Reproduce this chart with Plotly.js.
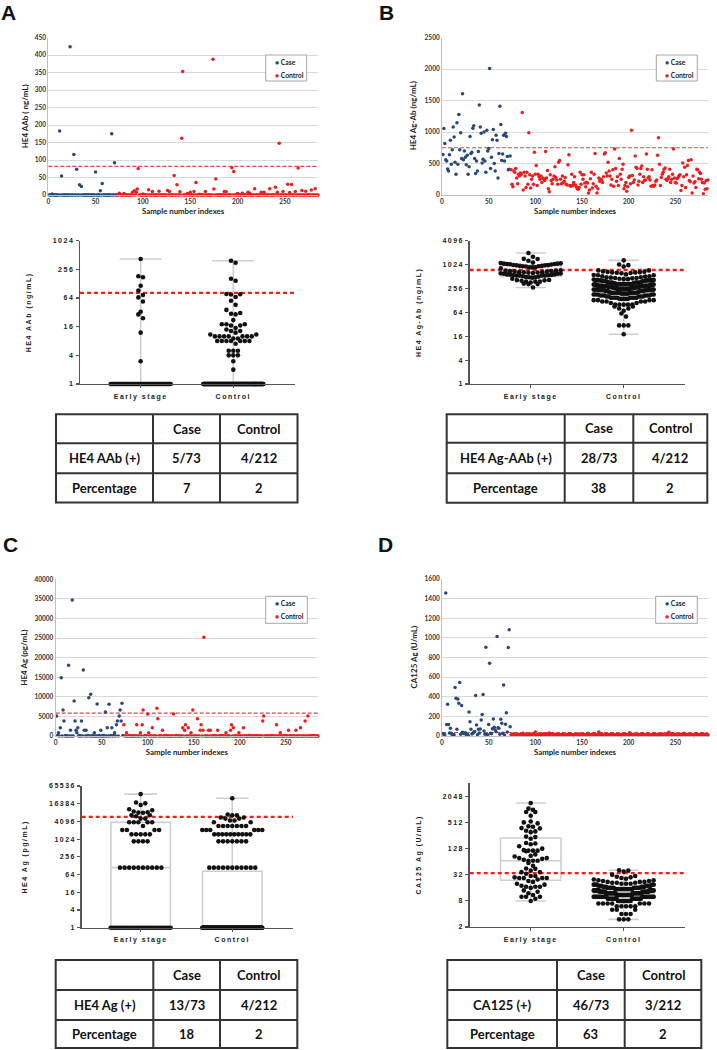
<!DOCTYPE html>
<html><head><meta charset="utf-8">
<script src="https://cdn.plot.ly/plotly-3.0.1.min.js"></script>
<style>
body{margin:0;background:#fff;}
#chart{width:717px;height:1050px;}
.x3tick text,.y3tick text,.x4tick text,.y4tick text,.x7tick text,.y7tick text,.x8tick text,.y8tick text{letter-spacing:1.5px;}
.y3title,.y4title,.y7title,.y8title{letter-spacing:1.5px;}
</style></head><body><div id="chart"></div><script>
// ---------------- DATA ----------------
const groupLabels = ['Early stage', 'Control'];
const legendNames = ['Case', 'Control'];
const sampleTicks = [0, 50, 100, 150, 200, 250];

// Panel A: HE4 AAb (ng/mL), case samples 1-73, control samples 74-285
const aCase = [0,0,0,3,0,0,0,0,0,0, 0,183,0,54,0,0,0,0,0,0, 0,0,424,0,0,0,116,0,0,74,
  0,0,29,0,24,0,0,0,0,0, 0,0,0,0,0,0,0,0,0,66, 0,0,0,0,12,0,33,0,0,0, 0,0,0,0,0,0,175,0,0,92, 0,0,0];
const aCtrl = [0,5,0,0,0,0,4,0,0,0, 0,0,0,0,0,8,0,12,0,8, 17,76,0,0,0,0,3,0,0,0, 0,0,15,0,0,0,10,0,0,0,
  0,0,0,11,0,0,0,0,0,0, 0,0,13,0,10,0,0,0,0,56, 0,0,29,0,0,9,0,162,353,0, 0,0,0,4,0,0,8,0,0,0,
  10,0,36,0,0,0,2,0,0,0, 0,0,10,0,0,0,0,0,0,0, 388,17,0,46,0,0,0,0,0,0, 0,0,10,0,9,0,0,0,0,0,
  78,0,67,0,0,0,4,0,0,0, 0,5,0,0,0,0,0,8,0,5, 0,0,0,0,18,0,0,0,0,0, 0,8,0,0,8,0,0,0,0,0,
  18,0,0,0,0,0,22,0,8,0, 148,0,0,0,10,0,0,0,0,31, 0,7,0,30,0,0,0,10,0,0, 77,0,0,0,13,0,0,0,11,0,
  0,0,0,0,14,0,0,0,18,0, 0,0];

// Panel B: HE4 Ag-Ab (ng/mL)
const bCase = [645,1057,820,560,540,415,380,640,870,490, 720,1080,920,520,330,1150,490,1280,720,990,
  580,1610,560,700,600,480,630,330,450,930, 660,680,1060,1100,580,340,540,380,690,1430,
  1080,980,510,570,1000,540,360,1030,700,740, 2010,420,600,880,1040,500,380,950,870,270,
  660,1410,1120,550,650,950,540,980,930,610, 400,410,620];
const bCtrl = [400,170,130,380,360,420,270,180,330,300, 350,330,1310,80,360,300,120,360,170,990,
  320,110,250,300,170,680,330,470,150,330, 290,250,300,200,270,260,230,690,270,390,
  100,50,320,230,180,250,300,450,280,240, 170,520,550,250,180,300,200,220,280,170,
  160,480,640,150,140,330,150,200,290,160, 130,100,90,120,360,170,320,250,320,190,
  130,200,190,30,80,260,360,110,180,330, 660,140,30,100,270,220,250,240,200,290,
  650,670,350,300,520,380,300,160,250,400, 140,730,420,220,290,150,580,330,250,410,
  490,100,150,200,60,130,280,300,180,1030, 310,200,240,620,440,420,160,220,330,420,
  460,200,290,230,240,650,410,270,290,240, 140,400,150,140,160,220,240,630,910,490,
  150,280,330,360,410,430,250,230,260,290, 410,200,250,330,730,270,200,190,260,280,
  310,320,70,150,510,290,440,120,320,470, 550,230,210,560,30,300,190,210,120,410,
  400,260,360,340,250,200,18,190,90,230, 100,240];

// Panel C: HE4 Ag (pg/mL)
const cCase = [5100,110,860,0,2090,14890,0,6640,3820,0, 110,0,0,18040,0,1490,0,34720,0,8940,
  3820,1490,860,2090,0,110,0,3820,0,16850, 1490,0,1490,0,110,9790,0,10640,0,110,
  0,860,0,0,8170,0,110,0,1490,0, 0,110,0,6130,0,2090,0,8090,0,110,
  2090,0,110,860,0,2860,3820,0,5100,6640, 3820,8340,110];
const cCtrl = [2860,0,0,860,0,0,110,0,0,0, 0,0,0,0,2860,0,0,0,860,0, 2860,6640,0,0,110,0,5600,860,0,0,
  0,2090,0,0,0,0,7060,4400,0,0, 0,0,1490,0,0,0,110,0,0,0, 0,0,0,0,5600,0,0,110,0,0,
  0,0,0,0,2090,0,1490,2860,0,0, 2090,0,0,860,0,6640,0,0,0,0, 4400,0,0,1490,2860,0,1490,25190,0,0,
  0,0,1490,0,1490,0,0,0,110,0, 0,0,1490,0,0,0,110,0,0,0, 0,860,0,0,0,0,1490,2860,0,2090,
  0,0,0,0,0,860,0,0,0,0, 2090,0,0,0,0,0,110,0,0,0, 0,0,0,0,110,0,0,0,0,0,
  0,3820,5100,0,0,0,0,0,0,0, 0,110,0,0,0,0,2860,0,0,0, 860,0,0,0,0,0,110,0,0,1490,
  0,0,0,0,0,0,0,1490,0,0, 0,0,2090,0,0,0,0,3820,0,0, 5100,0,0,0,0,0,110,0,0,0, 0,0];

// Panel D: CA125 Ag (U/mL)
const dCase = [22,17,12,1457,116,323,116,30,78,27, 9,10,14,494,385,68,378,334,545,18,
  310,37,25,27,34,11,17,8,245,146, 68,20,27,37,45,412,112,13,68,30,
  71,163,218,422,52,17,905,16,10,116, 742,27,23,75,174,88,60,44,1014,85,
  78,19,170,129,28,521,10,119,238,40, 902,1082,95];
const dCtrl = [12,9,15,22,11,8,14,18,10,13, 7,16,12,27,9,11,19,5,14,10, 13,21,8,12,17,10,41,11,9,15,
  6,12,18,14,9,23,11,8,16,13, 10,30,12,7,15,11,19,9,4,14, 12,17,10,13,8,20,11,16,6,12,
  9,14,25,11,18,10,13,3,15,12, 8,16,11,21,9,13,7,17,12,10, 14,11,28,9,12,5,16,10,13,19,
  11,8,15,12,40,10,14,22,9,13, 6,12,18,11,10,16,13,8,24,12, 15,9,11,14,7,19,10,12,3,17,
  13,10,21,8,12,15,11,32,9,14, 12,16,7,11,13,10,18,4,14,9, 10,22,12,15,8,11,17,13,6,12,
  11,14,9,26,10,12,16,5,13,15, 9,12,20,11,14,7,10,18,12,38, 13,8,15,11,23,10,12,16,4,14,
  12,10,17,9,13,29,11,6,15,12, 10,14,11,19,8,12,3,16,13,20, 11,9,15,12,24,10,14,7,18,12, 13,10];

// cut-off values (red dashed lines)
const cutA = 82, cutB = 750, cutC = 5850, cutD = 35;

// y tick values of the dot plots (log2 scale)
const ticksA = [1,4,16,64,256,1024];
const ticksB = [1,4,16,64,256,1024,4096];
const ticksC = [1,4,16,64,256,1024,4096,16384,65536];
const ticksD = [2,8,32,128,512,2048];

// tables
const tableHeader = ['', 'Case', 'Control'];
const tableA = [['HE4 AAb (+)', '5/73', '4/212'], ['Percentage', '7', '2']];
const tableB = [['HE4 Ag-AAb (+)', '28/73', '4/212'], ['Percentage', '38', '2']];
const tableC = [['HE4 Ag (+)', '13/73', '4/212'], ['Percentage', '18', '2']];
const tableD = [['CA125 (+)', '46/73', '3/212'], ['Percentage', '63', '2']];

// ---------------- STYLE / GEOMETRY ----------------
const W = 717, H = 1050;
const caseColor = '#27497a', ctrlColor = '#ee1c1c';
const G = {
  sA: {x:[48.3,318], y:[37.7,195]},
  sB: {x:[442,708], y:[37.7,195]},
  sC: {x:[55.7,318], y:[579.3,736]},
  sD: {x:[442,708], y:[579,736]},
  bA: {x:[80,295], y:[240.7,384], xr:[-0.655,1.666], yr:[1,1024]},
  bB: {x:[469.7,685], y:[240.7,384], xr:[-0.656,1.659], yr:[1,4096]},
  bC: {x:[81.7,293], y:[786,927.7], xr:[-0.644,1.663], yr:[1,65536]},
  bD: {x:[469.7,685], y:[782.7,927], xr:[-0.656,1.659], yr:[2,Math.pow(2,12.07)]}
};
function dom(g){ return {x:[g.x[0]/W, g.x[1]/W], y:[1-g.y[1]/H, 1-g.y[0]/H]}; }
function px(x){ return x/W; }
function py(y){ return 1-y/H; }

const layout = {
  width: W, height: H, autosize: false,
  margin: {l:0, r:0, t:0, b:0},
  paper_bgcolor: '#fff', plot_bgcolor: 'rgba(0,0,0,0)',
  showlegend: false, hovermode: false,
  shapes: [], annotations: []
};
const data = [];

const sFont = {family:'Lato, sans-serif', size:6.5, color:'#333', weight:'bold'};
function scatterPanel(id, g, vCase, vCtrl, yRange, dtick, ytitle, titleX, cut, legendBox){
  const d = dom(g);
  const xa = 'xaxis'+id, ya = 'yaxis'+id, xr = 'x'+id, yr = 'y'+id;
  layout[xa] = {domain:d.x, anchor:yr, range:[0,285], tickvals:sampleTicks, showline:true,
    linecolor:'#bfbfbf', linewidth:1, showgrid:false, zeroline:false, ticks:'', tickfont:sFont,
    title:{text:'Sample number indexes', font:Object.assign({}, sFont, {size:7.8, color:'#222'}), standoff:4}, fixedrange:true};
  layout[ya] = {domain:d.y, anchor:xr, range:yRange, dtick:dtick, tick0:0, tickformat:'d', showline:true,
    linecolor:'#bfbfbf', showgrid:true, gridcolor:'#d9d9d9', gridwidth:1, zeroline:false, ticks:'',
    tickfont:sFont, fixedrange:true};
  // y-axis title placed beside the tick labels
  layout.annotations.push({xref:'paper', yref:'paper', x:px(titleX), y:py((g.y[0]+g.y[1])/2), textangle:-90,
    xanchor:'center', yanchor:'middle', showarrow:false, text:ytitle,
    font:Object.assign({}, sFont, {size:8, color:'#222'})});
  const xCase = vCase.map((v,i)=>i+1);
  const xCtrl = vCtrl.map((v,i)=>vCase.length+i+1);
  data.push({type:'scatter', mode:'lines', x:[0,285], y:[cut,cut], xaxis:xr, yaxis:yr,
    line:{color:'#e0464e', width:1.1, dash:'4px,2px'}, hoverinfo:'skip', name:'Cut-off'});
  data.push({type:'scatter', mode:'markers', name:legendNames[0], x:xCase, y:vCase, xaxis:xr, yaxis:yr,
    marker:{color:caseColor, size:3.5}, cliponaxis:false});
  data.push({type:'scatter', mode:'markers', name:legendNames[1], x:xCtrl, y:vCtrl, xaxis:xr, yaxis:yr,
    marker:{color:ctrlColor, size:3.5}, cliponaxis:false});
  // legend box
  const lb = legendBox;
  layout.shapes.push({type:'rect', xref:'paper', yref:'paper', x0:px(lb.x[0]), x1:px(lb.x[1]),
    y0:py(lb.y[1]), y1:py(lb.y[0]), line:{color:'#a6a6a6', width:1}, fillcolor:'#fff'});
  [caseColor, ctrlColor].forEach((c,i)=>{
    layout.annotations.push({xref:'paper', yref:'paper', x:px(lb.tx), y:py(lb.ty[i]), xanchor:'left', yanchor:'middle',
      showarrow:false, text:'<span style="color:'+c+'">●</span> '+legendNames[i],
      font:{family:'Lato, sans-serif', size:6.8, color:'#222', weight:'bold'}});
  });
}

function quant(s, p){
  const n = s.length, pos = (n+1)*p;
  if (pos <= 1) return s[0];
  if (pos >= n) return s[n-1];
  const lo = Math.floor(pos), f = pos-lo;
  return s[lo-1] + f*(s[lo]-s[lo-1]);
}
function swarm(vals, center, g, dia, halfW){
  const ppl = (g.y[1]-g.y[0])/(Math.log2(g.yr[1])-Math.log2(g.yr[0]));
  const ppu = (g.x[1]-g.x[0])/(g.xr[1]-g.xr[0]);
  const pts = vals.map(v=>{const f=Math.max(v,1); return {v:f, p:Math.log2(f)*ppl};}).sort((a,b)=>a.p-b.p);
  const rows = []; let cur = null;
  for (const q of pts){
    if (cur && q.p-cur.p0 < dia) cur.items.push(q);
    else { cur = {p0:q.p, items:[q]}; rows.push(cur); }
  }
  const xs = [], ys = [];
  for (const r of rows){
    const n = r.items.length;
    const s = n>1 ? Math.min(dia, 2*halfW/(n-1)) : 0;
    r.items.forEach((q,i)=>{
      let slot;
      if (n%2){ slot = i===0 ? 0 : (i%2 ? (i+1)/2 : -(i/2)); }
      else { const k = Math.floor(i/2); slot = (i%2 ? -(k+0.5) : (k+0.5)); }
      xs.push(center + slot*s/ppu); ys.push(q.v);
    });
  }
  return {x:xs, y:ys};
}

const bFont = {family:'"Liberation Sans", Arial, sans-serif', size:7, color:'#222', weight:'bold'};
function dotPanel(id, g, vCase, vCtrl, ticks, ytitle, cut, ww){
  const d = dom(g);
  const xa = 'xaxis'+id, ya = 'yaxis'+id, xr = 'x'+id, yr = 'y'+id;
  layout[xa] = {domain:d.x, anchor:yr, range:g.xr, tickvals:[0,1], ticktext:groupLabels, showline:true,
    linecolor:'#555', linewidth:1.3, ticks:'outside', ticklen:3, tickwidth:1.1, tickcolor:'#555',
    showgrid:false, zeroline:false, tickfont:bFont, ticklabelstandoff:2, fixedrange:true};
  layout[ya] = {domain:d.y, anchor:xr, type:'log', range:[Math.log10(g.yr[0]), Math.log10(g.yr[1])],
    tickvals:ticks, ticktext:ticks.map(String), showline:true, linecolor:'#555', linewidth:1.3,
    ticks:'outside', ticklen:3, tickwidth:1.1, tickcolor:'#555', showgrid:false, zeroline:false,
    tickfont:bFont, title:{text:ytitle, font:Object.assign({}, bFont, {size:7}), standoff:20}, fixedrange:true};
  const groups = [vCase, vCtrl].map(v=>v.map(x=>Math.max(x,1)).sort((a,b)=>a-b));
  data.push({type:'box', xaxis:xr, yaxis:yr, x:[0,1],
    q1:groups.map(s=>quant(s,0.25)), median:groups.map(s=>quant(s,0.5)), q3:groups.map(s=>quant(s,0.75)),
    lowerfence:groups.map(s=>s[0]), upperfence:groups.map(s=>s[s.length-1]),
    width:0.65, whiskerwidth:ww, boxpoints:false, line:{color:'#cfcfcf', width:1.6},
    fillcolor:'rgba(255,255,255,0)', hoverinfo:'skip', name:'Box'});
  data.push({type:'scatter', mode:'lines', x:g.xr, y:[cut,cut], xaxis:xr, yaxis:yr,
    line:{color:'#ff1a1a', width:2.4, dash:'4px,3px'}, hoverinfo:'skip', name:'Cut-off', cliponaxis:false});
  [vCase, vCtrl].forEach((v,i)=>{
    const sw = swarm(v, i, g, 4.6, 30);
    data.push({type:'scatter', mode:'markers', x:sw.x, y:sw.y, xaxis:xr, yaxis:yr, name:groupLabels[i],
      marker:{color:'#111', size:4.6}, cliponaxis:false, hoverinfo:'skip'});
  });
}

function table(t, rows){
  const lc = '#333';
  layout.shapes.push({type:'rect', xref:'paper', yref:'paper', x0:px(t.x[0]), x1:px(t.x[3]), y0:py(t.y[3]), y1:py(t.y[0]),
    line:{color:lc, width:2}});
  [1,2].forEach(i=>{
    layout.shapes.push({type:'line', xref:'paper', yref:'paper', x0:px(t.x[i]), x1:px(t.x[i]), y0:py(t.y[3]), y1:py(t.y[0]), line:{color:lc, width:2}});
    layout.shapes.push({type:'line', xref:'paper', yref:'paper', x0:px(t.x[0]), x1:px(t.x[3]), y0:py(t.y[i]), y1:py(t.y[i]), line:{color:lc, width:2}});
  });
  const all = [tableHeader].concat(rows);
  all.forEach((r,ri)=>r.forEach((txt,ci)=>{
    if (!txt) return;
    layout.annotations.push({xref:'paper', yref:'paper', x:px((t.x[ci]+t.x[ci+1])/2), y:py((t.y[ri]+t.y[ri+1])/2),
      xanchor:'center', yanchor:'middle', showarrow:false, text:txt,
      font:{family:'Lato, sans-serif', size:13, color:'#111', weight:'bold'}});
  }));
}

scatterPanel('', G.sA, aCase, aCtrl, [0,450], 50, 'HE4 AAb ( ng/mL)', 25, cutA, {x:[265.7,306.7], y:[55,81], tx:273, ty:[62,75.3]});
scatterPanel('2', G.sB, bCase, bCtrl, [0,2500], 500, 'HE4 Ag-Ab (ng/mL)', 413, cutB, {x:[656.3,697.3], y:[55,81], tx:663, ty:[62,75.3]});
dotPanel('3', G.bA, aCase, aCtrl, ticksA, 'HE4 AAb (ng/mL)', cutA, 0.7);
dotPanel('4', G.bB, bCase, bCtrl, ticksB, 'HE4 Ag-Ab (ng/mL)', cutB, 0.5);
scatterPanel('5', G.sC, cCase, cCtrl, [0,40000], 5000, 'HE4 Ag (pg/mL)', 24, cutC, {x:[265.7,307.3], y:[596.3,623.3], tx:273, ty:[603,616.3]});
scatterPanel('6', G.sD, dCase, dCtrl, [0,1600], 200, 'CA125 Ag (U/mL)', 413, cutD, {x:[655.7,697.3], y:[596.3,623.3], tx:663, ty:[603,616.3]});
dotPanel('7', G.bC, cCase, cCtrl, ticksC, 'HE4 Ag (pg/mL)', cutC, 0.55);
dotPanel('8', G.bD, dCase, dCtrl, ticksD, 'CA125 Ag (U/mL)', cutD, 0.5);

table({x:[56,153,220,297.5], y:[414.3,443.3,473.3,502.5]}, tableA);
table({x:[446.7,564.7,633.3,707.3], y:[414.3,442.7,473.3,502.7]}, tableB);
table({x:[55.7,153.3,220,297.3], y:[960,990,1020,1048]}, tableC);
table({x:[447.3,557,624.7,701.3], y:[960,990,1020,1048]}, tableD);

// panel letters
[['A',8.5,12.5],['B',386.5,12],['C',10,544.5],['D',385.5,544.5]].forEach(l=>{
  layout.annotations.push({xref:'paper', yref:'paper', x:px(l[1]), y:py(l[2]), xanchor:'center', yanchor:'middle',
    showarrow:false, text:l[0], font:{family:'"Liberation Sans", Arial, sans-serif', size:21, color:'#111', weight:'bold'}});
});

Plotly.newPlot('chart', data, layout, {staticPlot:true, displayModeBar:false});
</script></body></html>
